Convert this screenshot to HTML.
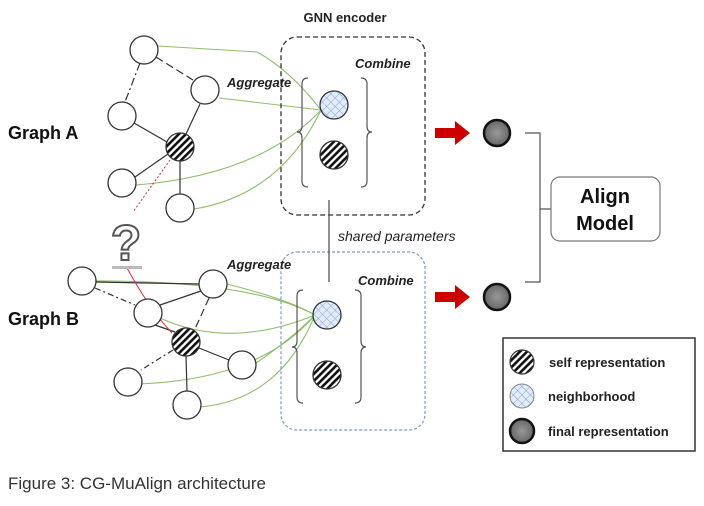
<!DOCTYPE html>
<html><head><style>
body{margin:0;background:#fff;}
svg text{font-family:"Liberation Sans",sans-serif;}
</style></head><body>
<svg width="704" height="501" viewBox="0 0 704 501" xmlns="http://www.w3.org/2000/svg">
<defs>
<pattern id="hatch" width="5" height="5" patternUnits="userSpaceOnUse" patternTransform="rotate(45)">
<rect width="5" height="5" fill="#fff"/><rect width="2.6" height="5" fill="#111"/></pattern>
<pattern id="mesh" width="6" height="6" patternUnits="userSpaceOnUse" patternTransform="rotate(45)">
<rect width="6" height="6" fill="#e4ecfa"/><path d="M0 0H6M0 0V6" stroke="#7b9ede" stroke-width="0.9"/></pattern>
<radialGradient id="fin"><stop offset="0" stop-color="#999"/><stop offset="1" stop-color="#666"/></radialGradient>
</defs>
<g fill="none" stroke="#8fbf6e" stroke-width="1.1">
<path d="M158 46 L257 52 Q290 70 321 110"/>
<path d="M219 98 Q280 105 321 110"/>
<path d="M136 185 Q260 175 321 110"/>
<path d="M194 209 Q280 195 321 110"/>
<path d="M90 281 Q250 280 315 315"/>
<path d="M227 284 Q290 300 315 315"/>
<path d="M160 318 Q230 350 315 315"/>
<path d="M256 363 Q290 340 315 315"/>
<path d="M137 384 Q260 380 315 315"/>
<path d="M200 407 Q280 400 315 315"/>
</g>
<g stroke="#333" stroke-width="1.2">
<line x1="140" y1="63" x2="125" y2="102" stroke-dasharray="8,3,2,3"/>
<line x1="156" y1="57" x2="193" y2="80" stroke-dasharray="8,4"/>
<line x1="200" y1="104" x2="186" y2="134"/>
<line x1="134" y1="123" x2="167" y2="142"/>
<line x1="168" y1="154" x2="135" y2="177"/>
<line x1="180" y1="161" x2="180" y2="194"/>
<line x1="96" y1="282" x2="199" y2="284"/>
<line x1="95" y1="288" x2="135" y2="305" stroke-dasharray="6,3,2,3"/>
<line x1="160" y1="305" x2="201" y2="291"/>
<line x1="209" y1="298" x2="195" y2="329" stroke-dasharray="8,4"/>
<line x1="155" y1="325" x2="175" y2="332"/>
<line x1="199" y1="348" x2="229" y2="360"/>
<line x1="173" y1="350" x2="141" y2="370" stroke-dasharray="6,3,2,3"/>
<line x1="186" y1="356" x2="187" y2="391"/>
</g>
<path d="M170 160 L133 212" stroke="#e23" stroke-width="1" stroke-dasharray="2,2" fill="none"/>
<path d="M127 268 Q150 310 172 333" stroke="#e23" stroke-width="1" fill="none"/>
<g stroke="#333" stroke-width="1.3" fill="#fff">
<circle cx="144" cy="50" r="14"/><circle cx="205" cy="90" r="14"/><circle cx="122" cy="116" r="14"/>
<circle cx="122" cy="183" r="14"/><circle cx="180" cy="208" r="14"/>
<circle cx="180" cy="147" r="14" fill="url(#hatch)"/>
<circle cx="82" cy="281" r="14"/><circle cx="213" cy="284" r="14"/><circle cx="148" cy="313" r="14"/>
<circle cx="242" cy="365" r="14"/><circle cx="128" cy="382" r="14"/><circle cx="187" cy="405" r="14"/>
<circle cx="186" cy="342" r="14" fill="url(#hatch)"/>
</g>
<text x="126" y="260" font-size="50" font-weight="bold" fill="#fff" stroke="#555" stroke-width="2" text-anchor="middle">?</text>
<rect x="112" y="266" width="30" height="3" fill="#bbb"/>
<rect x="281" y="37" width="144" height="178" rx="16" fill="none" stroke="#333" stroke-width="1.3" stroke-dasharray="5,3"/>
<rect x="281" y="252" width="144" height="178" rx="16" fill="none" stroke="#7b9ccc" stroke-width="1.2" stroke-dasharray="3,2"/>
<g fill="none" stroke="#555" stroke-width="1.2">
<path d="M308 78 Q302 78 302 84 V126 Q302 132 297 132 Q302 132 302 138 V181 Q302 187 308 187"/>
<path d="M361 78 Q367 78 367 84 V126 Q367 132 372 132 Q367 132 367 138 V181 Q367 187 361 187"/>
<path d="M303 290 Q297 290 297 296 V341 Q297 347 292 347 Q297 347 297 353 V397 Q297 403 303 403"/>
<path d="M355 290 Q361 290 361 296 V341 Q361 347 366 347 Q361 347 361 353 V397 Q361 403 355 403"/>
<path d="M525 133 H540 V282 H525 M540 209 H551"/>
</g>
<circle cx="334" cy="105" r="14" fill="url(#mesh)" stroke="#333" stroke-width="1.3"/>
<circle cx="334" cy="155" r="14" fill="url(#hatch)" stroke="#333" stroke-width="1.3"/>
<circle cx="327" cy="315" r="14" fill="url(#mesh)" stroke="#333" stroke-width="1.3"/>
<circle cx="327" cy="375" r="14" fill="url(#hatch)" stroke="#333" stroke-width="1.3"/>
<line x1="329" y1="200" x2="329" y2="282" stroke="#333" stroke-width="1.1"/>
<text x="345" y="22" font-size="13" font-weight="bold" text-anchor="middle" fill="#222">GNN encoder</text>
<g font-size="13" font-weight="bold" font-style="italic" fill="#222">
<text x="227" y="87">Aggregate</text><text x="355" y="68">Combine</text>
<text x="227" y="269">Aggregate</text><text x="358" y="285">Combine</text></g>
<text x="338" y="241" font-size="14" font-style="italic" fill="#222">shared parameters</text>
<g font-size="18" font-weight="bold" fill="#111">
<text x="8" y="139">Graph A</text><text x="8" y="325">Graph B</text></g>
<path d="M435 128 H455 V121 L470 133 L455 145 V138 H435Z" fill="#c00"/>
<path d="M435 292 H455 V285 L470 297 L455 309 V302 H435Z" fill="#c00"/>
<circle cx="497" cy="133" r="13" fill="url(#fin)" stroke="#111" stroke-width="2.5"/>
<circle cx="497" cy="297" r="13" fill="url(#fin)" stroke="#111" stroke-width="2.5"/>
<rect x="551" y="177" width="109" height="64" rx="9" fill="#fff" stroke="#777" stroke-width="1.2"/>
<text x="605" y="203" font-size="20" font-weight="bold" text-anchor="middle" fill="#111">Align</text>
<text x="605" y="230" font-size="20" font-weight="bold" text-anchor="middle" fill="#111">Model</text>
<rect x="503" y="338" width="192" height="113" fill="#fff" stroke="#333" stroke-width="1.5"/>
<circle cx="522" cy="362" r="12" fill="url(#hatch)" stroke="#333" stroke-width="1.2"/>
<circle cx="522" cy="396" r="12" fill="url(#mesh)" stroke="#888" stroke-width="1"/>
<circle cx="522" cy="431" r="12" fill="url(#fin)" stroke="#111" stroke-width="2.5"/>
<g font-size="13" font-weight="bold" fill="#222">
<text x="549" y="367">self representation</text><text x="548" y="401">neighborhood</text><text x="548" y="436">final representation</text></g>
<text x="8" y="489" font-size="17" fill="#333">Figure 3: CG-MuAlign architecture</text>
</svg>
</body></html>
